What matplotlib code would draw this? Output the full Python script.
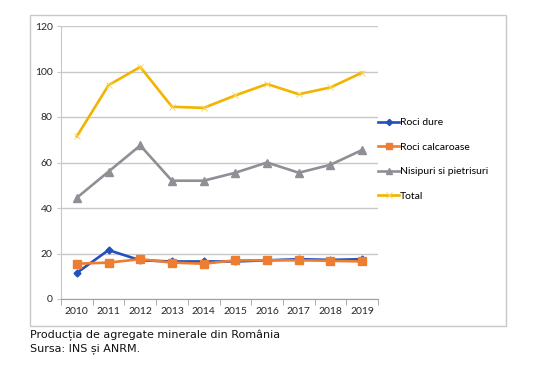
import matplotlib
matplotlib.use("Agg")
import matplotlib.pyplot as plt
from matplotlib.patches import Rectangle
from matplotlib.ticker import MultipleLocator, FixedLocator

years = ["2010", "2011", "2012", "2013", "2014", "2015", "2016", "2017", "2018", "2019"]
roci_dure = [11.5, 21.5, 17.0, 16.5, 16.5, 16.5, 17.0, 17.5, 17.2, 17.5]
roci_calcaroase = [15.5, 16.0, 17.5, 16.0, 15.5, 17.0, 17.0, 17.0, 16.8, 16.5]
nisipuri = [44.5, 56.0, 67.5, 52.0, 52.0, 55.5, 60.0, 55.5, 59.0, 65.5]
total = [71.5, 94.0, 102.0, 84.5, 84.0, 89.5, 94.5, 90.0, 93.0, 99.5]
labels = ["Roci dure", "Roci calcaroase", "Nisipuri si pietrisuri", "Total"]
caption1 = "Producția de agregate minerale din România"
caption2 = "Sursa: INS și ANRM."

W, H = 550, 376
fig = plt.figure(figsize=(W / 100, H / 100), dpi=100)
fig.patch.set_facecolor("white")

# outer chart border
fig.patches.append(Rectangle((30 / W, 1 - 326 / H), (506 - 30) / W, (326 - 15) / H,
                             transform=fig.transFigure, fill=False,
                             edgecolor="#c8c8c8", linewidth=1.0))

ax = fig.add_axes([61 / W, 1 - 299 / H, (378 - 61) / W, (299 - 26) / H])
x = list(range(len(years)))

ax.plot(x, roci_dure, color="#2450BE", lw=1.9, marker="D", ms=3.5, label=labels[0], zorder=4)
ax.plot(x, roci_calcaroase, color="#ED7D31", lw=1.9, marker="s", ms=5.5, label=labels[1], zorder=5)
ax.plot(x, nisipuri, color="#8F8F96", lw=1.9, marker="^", ms=5.5, label=labels[2], zorder=3)
ax.plot(x, total, color="#F2B400", lw=1.9, marker="x", ms=4.5, mec="#F8D860", mew=0.7, label=labels[3], zorder=3)

ax.set_xlim(-0.5, len(years) - 0.5)
ax.set_ylim(0, 120)
ax.yaxis.set_major_locator(MultipleLocator(20))
ax.set_xticks(x)
ax.set_xticklabels(years)
ax.xaxis.set_minor_locator(FixedLocator([i - 0.5 for i in range(len(years) + 1)]))
ax.tick_params(axis="x", which="major", length=0, pad=6, labelsize=7.5)
ax.tick_params(axis="x", which="minor", length=4, color="#a0a0a0", direction="out")
ax.tick_params(axis="y", which="major", length=3, color="#c8c8c8", labelsize=7.5, pad=3)
for lab in ax.get_xticklabels() + ax.get_yticklabels():
    lab.set_fontfamily("Lato")
    lab.set_color("#262626")

ax.grid(axis="y", color="#c8c8c8", lw=1.0)
ax.set_axisbelow(True)
for s in ["top", "right"]:
    ax.spines[s].set_visible(False)
ax.spines["left"].set_color("#c8c8c8")
ax.spines["bottom"].set_color("#a0a0a0")

leg = ax.legend(loc="upper left", bbox_to_anchor=(374 / W, 1 - 114 / H), bbox_transform=fig.transFigure,
                frameon=False, prop={"family": "Lato", "size": 7.5}, handlelength=2.0,
                handletextpad=0.1, labelspacing=1.45, borderaxespad=0, markerscale=0.9)

fig.text(30 / W, 1 - 335 / H, caption1, fontsize=8.0, family="DejaVu Sans", va="center", ha="left", color="#111111")
fig.text(30 / W, 1 - 349 / H, caption2, fontsize=8.0, family="DejaVu Sans", va="center", ha="left", color="#111111")

fig.savefig("out.png", dpi=100, facecolor="white")
